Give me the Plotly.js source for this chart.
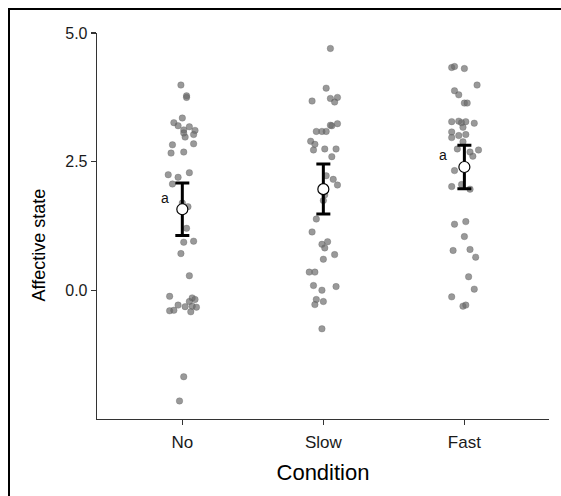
<!DOCTYPE html>
<html>
<head>
<meta charset="utf-8">
<script src="https://cdn.plot.ly/plotly-3.0.1.min.js"></script>
<style>
  html, body { margin:0; padding:0; background:#fff; }
  #wrap { position:relative; width:561px; height:496px; overflow:hidden; }
  #frame { position:absolute; left:8px; top:8px; width:600px; height:600px; border-left:2px solid #000; border-top:2px solid #000; pointer-events:none; }
  #chart { position:absolute; left:0; top:0; width:561px; height:496px; }
</style>
</head>
<body>
<div id="wrap"><div id="chart"></div><div id="frame"></div></div>
<script>
// Categories and tick labels
const categories = ["No", "Slow", "Fast"];

// Individual observations (jitter offset in category units, value)
const noJitter = [-0.01,0.03,0.03,0.00,-0.06,-0.03,0.05,0.01,0.09,0.08,0.02,0.01,-0.07,0.08,-0.08,0.01,-0.10,-0.03,0.05,-0.07,0.04,0.00,0.03,0.01,0.08,-0.01,0.05,-0.09,0.07,0.09,0.05,-0.03,0.02,0.07,0.10,-0.09,-0.06,0.06,0.01,-0.02];
const noValues = [3.99,3.78,3.75,3.35,3.26,3.20,3.18,3.12,3.11,3.03,2.98,3.06,2.83,2.85,2.67,2.69,2.25,2.20,2.29,2.07,1.63,1.70,1.21,0.94,0.96,0.72,0.29,-0.11,-0.14,-0.17,-0.21,-0.28,-0.31,-0.30,-0.32,-0.39,-0.38,-0.41,-1.67,-2.14];

const slowJitter = [0.05,0.02,-0.08,0.05,0.10,0.08,0.06,0.05,0.10,-0.05,-0.01,0.02,-0.09,-0.06,-0.07,0.01,0.09,0.06,0.02,0.07,0.10,0.01,0.00,-0.05,-0.08,0.03,-0.01,0.01,0.08,0.00,-0.10,-0.06,-0.07,-0.01,0.09,-0.05,-0.06,0.00,-0.01];
const slowValues = [4.70,3.93,3.68,3.73,3.75,3.66,3.20,3.21,3.24,3.09,3.09,3.09,2.90,2.84,2.73,2.75,2.75,2.60,2.23,2.16,2.05,1.86,1.75,1.39,1.14,0.95,0.90,0.83,0.70,0.61,0.36,0.36,0.10,0.01,0.08,-0.17,-0.27,-0.21,-0.74];

const fastJitter = [-0.09,-0.07,0.00,0.09,-0.07,-0.04,0.00,0.02,-0.09,-0.04,-0.02,0.01,0.07,-0.01,-0.09,-0.09,-0.04,0.01,-0.01,-0.05,0.04,0.10,0.06,-0.07,-0.09,-0.02,0.04,-0.07,0.01,0.00,-0.08,0.04,0.08,0.03,0.07,-0.09,-0.01,0.01];
const fastValues = [4.33,4.35,4.31,3.99,3.88,3.80,3.64,3.64,3.28,3.29,3.26,3.28,3.25,3.17,3.08,2.97,3.01,3.03,2.89,2.75,2.69,2.73,2.61,2.33,2.02,2.06,1.97,1.29,1.34,1.05,0.78,0.80,0.65,0.27,0.03,-0.12,-0.30,-0.28];

// Group means and error half-widths
const means = [1.58, 1.97, 2.40];
const errUp = [0.51, 0.49, 0.42];
const errDown = [0.51, 0.48, 0.42];

// Significance letters
const letterText = ["a", "", "a"];
const letterDx = [-0.12, 0, -0.15];
const letterDy = [0.22, 0, 0.23];

// Y tick labels
const yTickVals = [0, 2.5, 5];
const yTickText = ["0.0", "2.5", "5.0"];

const groupsJ = [noJitter, slowJitter, fastJitter];
const groupsV = [noValues, slowValues, fastValues];
const ptsX = [], ptsY = [];
groupsJ.forEach((jit, gi) => {
  jit.forEach((j, k) => { ptsX.push(gi + j); ptsY.push(groupsV[gi][k]); });
});
const catIdx = categories.map((c, i) => i);

const FONT = "Liberation Sans, Arial, Helvetica, sans-serif";

const traces = [
  {
    type: "scatter", mode: "markers", x: ptsX, y: ptsY,
    marker: { size: 6.5, color: "rgba(105,105,105,0.68)", line: { color: "rgba(90,90,90,0.6)", width: 0.5 } },
    hoverinfo: "skip", showlegend: false
  },
  {
    type: "scatter", mode: "markers", x: catIdx, y: means,
    error_y: { type: "data", symmetric: false, array: errUp, arrayminus: errDown, color: "#000", thickness: 3, width: 7 },
    marker: { size: 11, color: "#fff", line: { color: "#000", width: 1.2 } },
    showlegend: false
  }
];

const annotations = [];
letterText.forEach((t, i) => {
  if (!t) return;
  annotations.push({
    x: i + letterDx[i], y: means[i] + letterDy[i], text: t, showarrow: false,
    xref: "x", yref: "y", font: { family: FONT, size: 14, color: "#111" }
  });
});
// Y axis title (placed as in the reference, slightly below panel centre)
annotations.push({
  xref: "paper", yref: "paper", x: -0.1294, y: 0.451, xanchor: "center", yanchor: "middle",
  text: "Affective state", textangle: -90, showarrow: false,
  font: { family: FONT, size: 18, color: "#000" }
});

const layout = {
  width: 561, height: 496,
  margin: { l: 97, r: 12, t: 33, b: 77, pad: 0 },
  paper_bgcolor: "#fff", plot_bgcolor: "#fff",
  font: { family: FONT, color: "#222" },
  showlegend: false,
  xaxis: {
    range: [-0.605, 2.6], tickvals: catIdx, ticktext: categories,
    showgrid: false, zeroline: false, showline: true, linecolor: "#333", linewidth: 1.3,
    ticks: "outside", ticklen: 5, tickwidth: 1.3, tickcolor: "#333",
    tickfont: { size: 17, color: "#1a1a1a" }, ticklabelstandoff: 2,
    title: { text: "Condition", font: { size: 22, color: "#000" }, standoff: 14 },
    fixedrange: true
  },
  yaxis: {
    range: [-2.49, 5.0], tickvals: yTickVals, ticktext: yTickText,
    showgrid: false, zeroline: false, showline: true, linecolor: "#333", linewidth: 1.3,
    ticks: "outside", ticklen: 5, tickwidth: 1.3, tickcolor: "#333",
    tickfont: { size: 16, color: "#1a1a1a" },
    fixedrange: true
  },
  annotations: annotations
};

Plotly.newPlot("chart", traces, layout, { displayModeBar: false, staticPlot: true });
</script>
</body>
</html>
